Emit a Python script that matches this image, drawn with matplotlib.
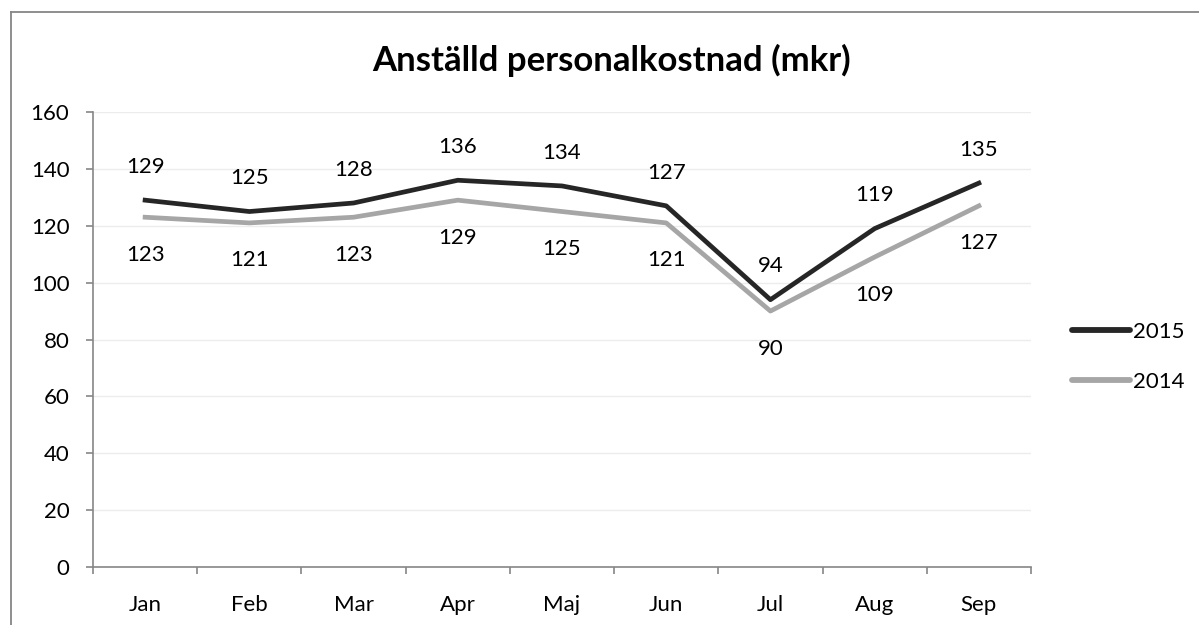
import matplotlib
matplotlib.use("Agg")
import matplotlib.pyplot as plt
from matplotlib.lines import Line2D

months = ["Jan", "Feb", "Mar", "Apr", "Maj", "Jun", "Jul", "Aug", "Sep"]
v2015 = [129, 125, 128, 136, 134, 127, 94, 119, 135]
v2014 = [123, 121, 123, 129, 125, 121, 90, 109, 127]
yticks = [0, 20, 40, 60, 80, 100, 120, 140, 160]
title = "Anställd personalkostnad (mkr)"

plt.rcParams['font.family'] = ['Lato', 'DejaVu Sans']
FS = 16

W, H = 1199, 625
fig = plt.figure(figsize=(W / 100, H / 100), dpi=100)
ax = fig.add_axes([93 / W, 58 / H, (1031 - 93) / W, (567 - 112) / H])

c15 = "#262626"
c14 = "#a6a6a6"
x = list(range(len(months)))
ax.plot(x, v2015, color=c15, lw=3.4, solid_joinstyle='round', label="2015", zorder=3)
ax.plot(x, v2014, color=c14, lw=3.4, solid_joinstyle='round', label="2014", zorder=2)

for xi, v in zip(x, v2015):
    ax.annotate(str(v), (xi, v), xytext=(0, 24), textcoords='offset points',
                ha='center', va='center', fontsize=FS, color='black')
for xi, v in zip(x, v2014):
    ax.annotate(str(v), (xi, v), xytext=(0, -27), textcoords='offset points',
                ha='center', va='center', fontsize=FS, color='black')

ax.set_xlim(-0.5, len(months) - 0.5)
ax.set_ylim(0, 160)
ax.set_yticks(yticks)
ax.set_yticklabels([str(t) for t in yticks])
ax.set_xticks(x)
ax.set_xticklabels(months)
ax.set_xticks([i - 0.5 for i in range(len(months) + 1)], minor=True)

ax.grid(axis='y', color='#ececec', lw=1.0, zorder=0)
ax.set_axisbelow(True)
for s in ['top', 'right']:
    ax.spines[s].set_visible(False)
for s in ['left', 'bottom']:
    ax.spines[s].set_color('#868686')
    ax.spines[s].set_linewidth(1.2)

ax.tick_params(axis='y', which='major', length=5, width=1.2, color='#868686',
               labelsize=FS, pad=12, labelcolor='black')
ax.tick_params(axis='x', which='major', length=0, labelsize=FS, pad=20, labelcolor='black')
ax.tick_params(axis='x', which='minor', length=5, width=1.2, color='#868686')

fig.text(611 / W, 1 - 60 / H, title, ha='center', va='center',
         fontsize=25, fontweight='bold', color='black')

handles = [Line2D([0], [0], color=c15, lw=4.2, solid_capstyle='round'),
           Line2D([0], [0], color=c14, lw=4.2, solid_capstyle='round')]
fig.legend(handles, ["2015", "2014"], loc='center left',
           bbox_to_anchor=(1052 / W, 1 - 357 / H), frameon=False,
           fontsize=FS, handlelength=2.6, handletextpad=0.15, labelspacing=1.35)

# outer chart border (left and top)
fig.add_artist(Line2D([11 / W, 11 / W], [0, 1 - 12 / H], transform=fig.transFigure,
                      color='#868686', lw=1.3))
fig.add_artist(Line2D([11 / W, 1], [1 - 12 / H, 1 - 12 / H], transform=fig.transFigure,
                      color='#868686', lw=1.3))

fig.savefig("out.png", dpi=100)
